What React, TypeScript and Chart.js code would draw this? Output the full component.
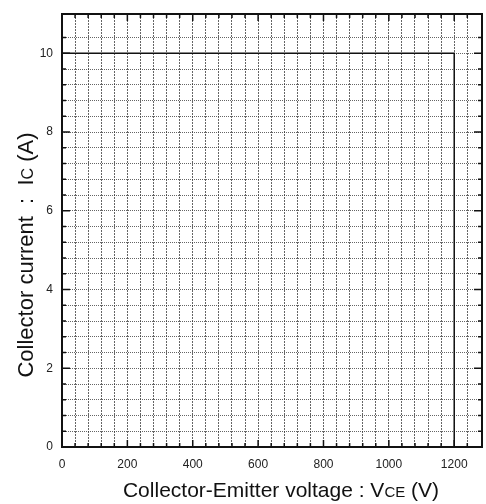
import React, { useEffect, useRef } from "react";
import { Chart, registerables } from "chart.js";

Chart.register(...registerables);

const vceValues = [0, 1200, 1200];
const icValues = [10, 10, 0];
const xTickLabels = [0, 200, 400, 600, 800, 1000, 1200];
const yTickLabels = [0, 2, 4, 6, 8, 10];
const xMin = 0;
const xMax = 1285;
const xGridStep = 40;
const yMin = 0;
const yMax = 11;
const yGridStep = 0.4;

const FONT = "'Liberation Sans', Arial, Helvetica, sans-serif";

const isLabel = (v: number, list: number[]) => list.some((l) => Math.abs(l - v) < 1e-6);

const framePlugin = {
  id: "frameTicks",
  afterDraw(chart: any) {
    const { ctx, chartArea } = chart;
    const { left, right, top, bottom } = chartArea;
    const xs = chart.scales.x;
    const ys = chart.scales.y;
    ctx.save();
    ctx.strokeStyle = "#111";
    ctx.lineCap = "butt";
    ctx.lineWidth = 1.5;
    xs.ticks.forEach((t: any) => {
      if (t.value <= xMin || t.value >= xMax) return;
      const px = xs.getPixelForValue(t.value);
      const len = isLabel(t.value, xTickLabels) ? 7 : 4;
      ctx.beginPath();
      ctx.moveTo(px, bottom);
      ctx.lineTo(px, bottom - len);
      ctx.moveTo(px, top);
      ctx.lineTo(px, top + len);
      ctx.stroke();
    });
    ys.ticks.forEach((t: any) => {
      if (t.value <= yMin || t.value >= yMax) return;
      const py = ys.getPixelForValue(t.value);
      const len = isLabel(t.value, yTickLabels) ? 8 : 4;
      ctx.beginPath();
      ctx.moveTo(left, py);
      ctx.lineTo(left + len, py);
      ctx.moveTo(right, py);
      ctx.lineTo(right - len, py);
      ctx.stroke();
    });
    ctx.lineWidth = 2;
    ctx.strokeRect(left, top, right - left, bottom - top);

    const drawParts = (parts: { t: string; s: number }[]) => {
      let total = 0;
      parts.forEach((p) => {
        ctx.font = `${p.s}px ${FONT}`;
        total += ctx.measureText(p.t).width;
      });
      let x = -total / 2;
      ctx.fillStyle = "#111";
      ctx.textBaseline = "alphabetic";
      ctx.textAlign = "left";
      parts.forEach((p) => {
        ctx.font = `${p.s}px ${FONT}`;
        ctx.fillText(p.t, x, 0);
        x += ctx.measureText(p.t).width;
      });
    };
    ctx.save();
    ctx.translate(281, 497);
    drawParts([
      { t: "Collector-Emitter voltage : V", s: 21 },
      { t: "CE", s: 15 },
      { t: " (V)", s: 21 },
    ]);
    ctx.restore();
    ctx.save();
    ctx.translate(33, 255);
    ctx.rotate(-Math.PI / 2);
    drawParts([
      { t: "Collector current  :  I", s: 22 },
      { t: "C", s: 16 },
      { t: " (A)", s: 22 },
    ]);
    ctx.restore();
    ctx.restore();
  },
};

export default function App() {
  const ref = useRef<HTMLCanvasElement | null>(null);
  useEffect(() => {
    if (!ref.current) return;
    const points = vceValues.map((v, i) => ({ x: v, y: icValues[i] }));
    const gridStyle = {
      color: "rgba(50,50,50,0.75)",
      lineWidth: 1,
      drawTicks: false,
    };
    const chart = new Chart(ref.current, {
      type: "line",
      data: {
        datasets: [
          {
            data: points,
            borderColor: "#111",
            borderWidth: 1.5,
            pointRadius: 0,
            fill: false,
            tension: 0,
          },
        ],
      },
      options: {
        animation: false,
        responsive: false,
        maintainAspectRatio: false,
        layout: { padding: { left: 0, right: 4, top: 14, bottom: 0 } },
        plugins: { legend: { display: false }, tooltip: { enabled: false }, title: { display: false } },
        scales: {
          x: {
            type: "linear",
            min: xMin,
            max: xMax,
            border: { display: false, dash: [2, 1] },
            grid: gridStyle,
            ticks: {
              stepSize: xGridStep,
              maxTicksLimit: 1000,
              autoSkip: false,
              maxRotation: 0,
              padding: 10,
              color: "#222",
              font: { family: FONT, size: 12 },
              callback: (v: any) => (isLabel(Number(v), xTickLabels) ? String(Math.round(Number(v))) : ""),
            },
            afterFit: (s: any) => {
              s.height = 57;
              s.paddingLeft = 0;
              s.paddingRight = 0;
            },
          },
          y: {
            type: "linear",
            min: yMin,
            max: yMax,
            border: { display: false, dash: [1, 1] },
            grid: gridStyle,
            ticks: {
              stepSize: yGridStep,
              maxTicksLimit: 1000,
              autoSkip: false,
              padding: 9,
              color: "#222",
              font: { family: FONT, size: 12 },
              callback: (v: any) => (isLabel(Number(v), yTickLabels) ? String(Math.round(Number(v))) : ""),
            },
            afterFit: (s: any) => {
              s.width = 62;
              s.paddingTop = 0;
              s.paddingBottom = 0;
            },
          },
        },
      },
      plugins: [framePlugin],
    } as any);
    return () => chart.destroy();
  }, []);
  return (
    <div style={{ position: "absolute", left: 0, top: 0, width: 486, height: 504, background: "#fff" }}>
      <canvas ref={ref} width={486} height={504} style={{ display: "block" }} />
    </div>
  );
}
